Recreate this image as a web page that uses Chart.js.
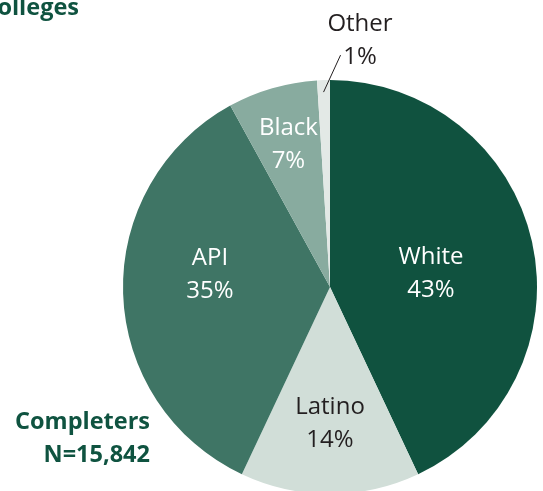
<!DOCTYPE html>
<html>
<head>
<meta charset="utf-8">
<script src="https://cdn.jsdelivr.net/npm/chart.js@4/dist/chart.umd.min.js"></script>
<style>
  html, body { margin: 0; padding: 0; background: #fff; overflow: hidden; }
  #wrap { position: relative; width: 543px; height: 491px; overflow: hidden; }
  #chart { position: absolute; left: 0; top: 0; }
  .note { position: absolute; font-family: "Open Sans", sans-serif; font-weight: 700; color: #0f5340; font-size: 23.5px; line-height: 33px; white-space: nowrap; }
  #title { right: 464px; top: -10px; text-align: right; }
  #completers { right: 393px; top: 404px; text-align: right; }
</style>
</head>
<body>
<div id="wrap">
  <canvas id="chart" width="543" height="500"></canvas>
  <div id="title" class="note">Colleges</div>
  <div id="completers" class="note">Completers<br>N=15,842</div>
</div>
<script>
const groups = ['White', 'Latino', 'API', 'Black', 'Other'];
const shares = [43, 14, 35, 7, 1];
const sliceColors = ['#10523f', '#d1ded8', '#3f7565', '#88ab9f', '#e3e9e6'];
const labelColors = ['#ffffff', '#231f20', '#ffffff', '#ffffff', '#231f20'];

const font = "24px 'Open Sans', sans-serif";

// label distance from centre (fraction of radius) and a small vertical nudge
const labelRadius = [0.5, 0.66, 0.58, 0.72, 1.25];
const labelNudge = [9, 0, -17, 0, 0];

const sliceLabels = {
  id: 'sliceLabels',
  afterDatasetsDraw(chart) {
    const ctx = chart.ctx;
    const arcs = chart.getDatasetMeta(0).data;
    ctx.save();
    ctx.font = font;
    ctx.textAlign = 'center';
    ctx.textBaseline = 'middle';
    arcs.forEach((arc, i) => {
      const mid = (arc.startAngle + arc.endAngle) / 2;
      const r = arc.outerRadius * labelRadius[i];
      let x = arc.x + Math.cos(mid) * r;
      let y = arc.y + Math.sin(mid) * r + labelNudge[i];
      if (groups[i] === 'Other') {
        // leader line from the slice edge up to the label
        const ex = arc.x + Math.cos(mid) * (arc.outerRadius - 2);
        const ey = arc.y + Math.sin(mid) * (arc.outerRadius - 2);
        ctx.strokeStyle = '#231f20';
        ctx.lineWidth = 1;
        ctx.beginPath();
        ctx.moveTo(ex, ey + 10);
        ctx.lineTo(ex + 17, ey - 27);
        ctx.stroke();
        x = arc.x + 30;
        y = 40;
      }
      ctx.fillStyle = labelColors[i];
      ctx.fillText(groups[i], x, y - 16);
      ctx.fillText(shares[i] + '%', x, y + 17);
    });
    ctx.restore();
  }
};

new Chart(document.getElementById('chart'), {
  type: 'pie',
  data: {
    labels: groups,
    datasets: [{
      data: shares,
      backgroundColor: sliceColors,
      borderWidth: 0
    }]
  },
  options: {
    responsive: false,
    animation: false,
    layout: { padding: { left: 123, right: 6, top: 80, bottom: 6 } },
    plugins: {
      legend: { display: false },
      tooltip: { enabled: false }
    }
  },
  plugins: [sliceLabels]
});
</script>
</body>
</html>
